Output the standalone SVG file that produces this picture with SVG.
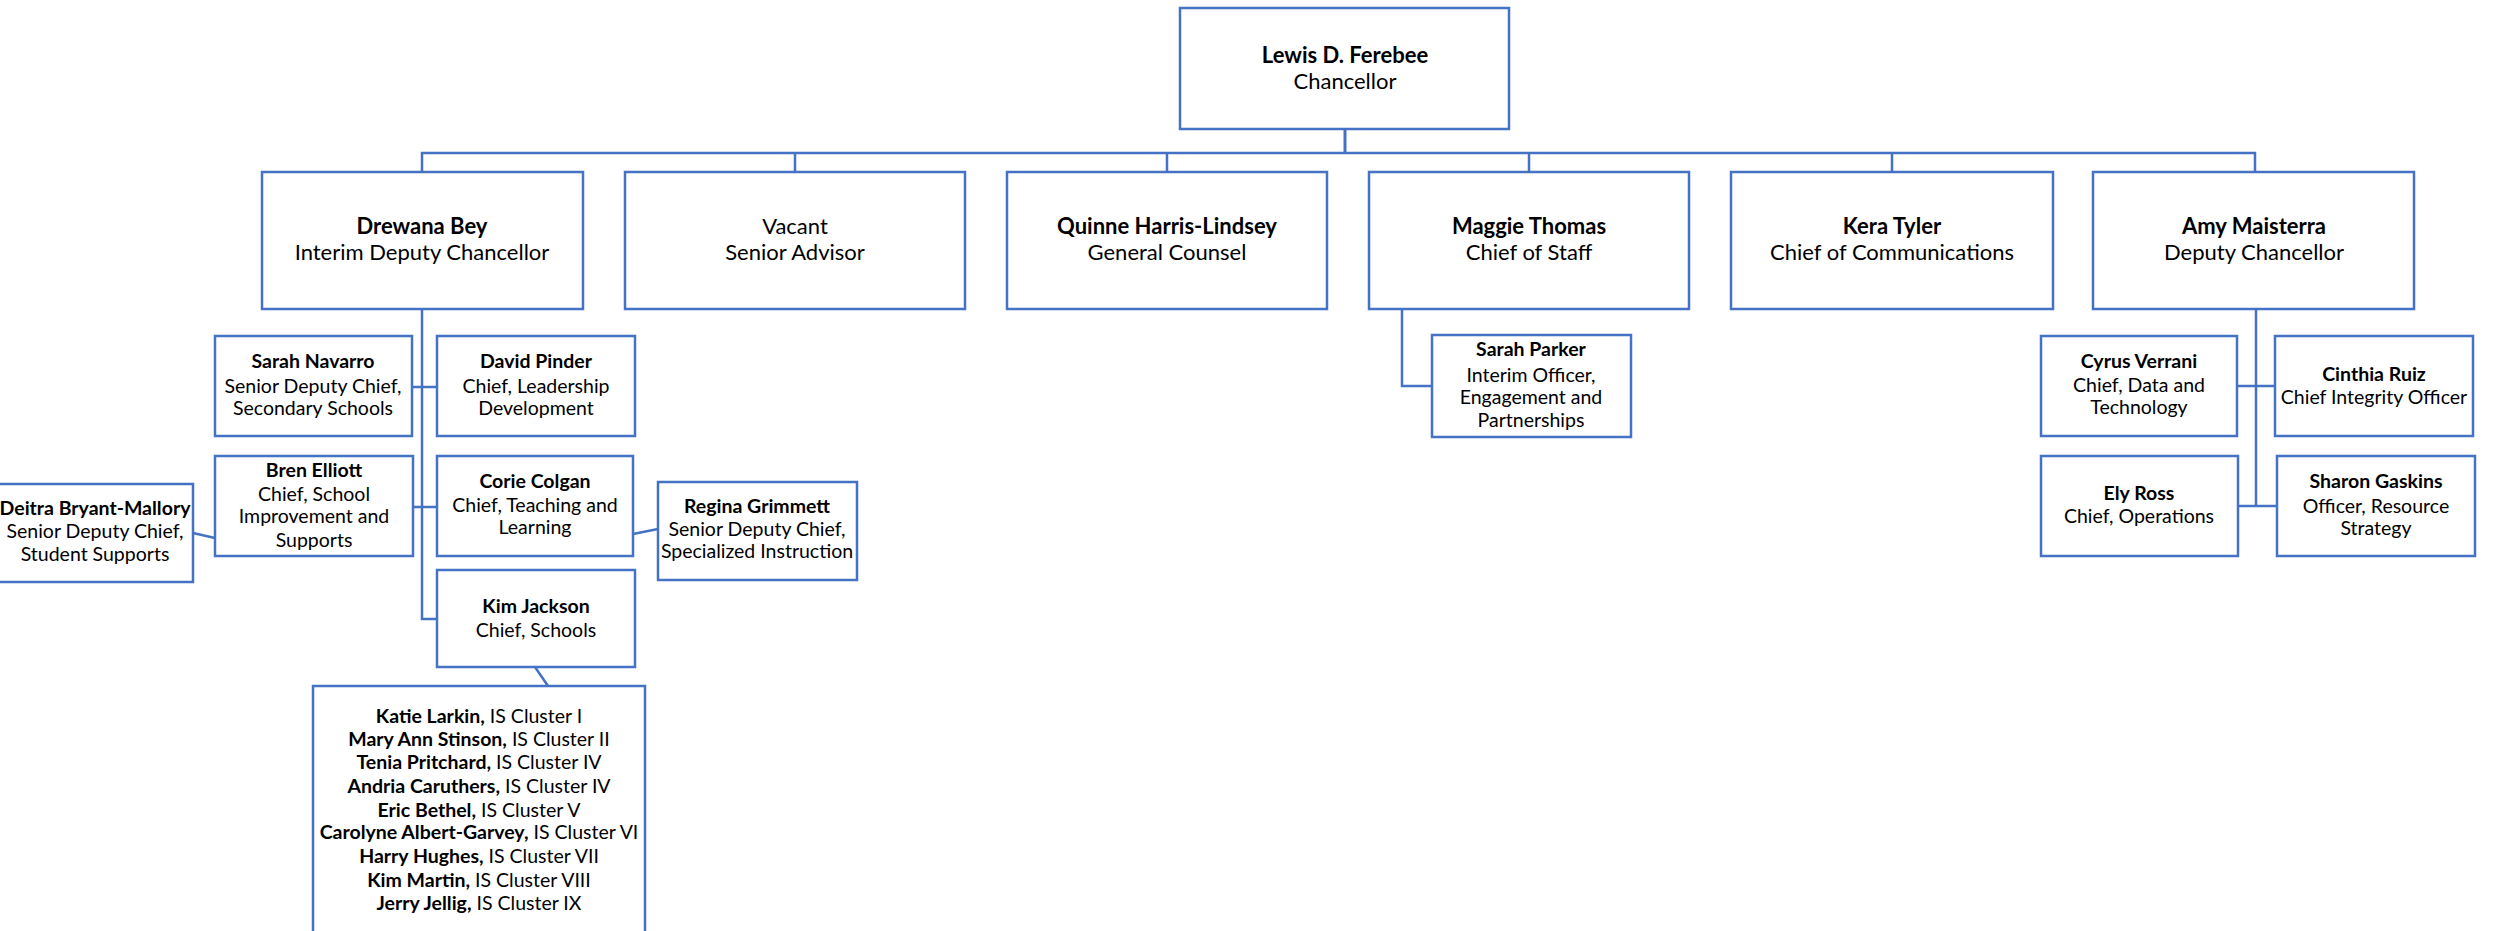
<svg xmlns="http://www.w3.org/2000/svg" width="2501" height="931" viewBox="0 0 2501 931">
<style>
.box{fill:#fff;stroke:#4472C4;stroke-width:2.5}
.conn{fill:none;stroke:#4472C4;stroke-width:2.5}
text{font-family:Lato,"Liberation Sans",sans-serif;fill:#000;text-anchor:middle}
.t1{font-size:22px}
.t2{font-size:19.5px}
.b{font-weight:bold}
</style>
<rect width="2501" height="931" fill="#fff"/>
<g id="connectors">
<path class="conn" d="M1345,129 V153" style="stroke-width:3"/>
<path class="conn" d="M422,172 V153 H2255 V172"/>
<path class="conn" d="M795,153 V172 M1167,153 V172 M1529,153 V172 M1892,153 V172"/>
<path class="conn" d="M422,308 V619 H437"/>
<path class="conn" d="M412,387 H437 M413,507 H437"/>
<path class="conn" d="M193,533 L215,538"/>
<path class="conn" d="M633,534 L658,529"/>
<path class="conn" d="M535,667 L548,686"/>
<path class="conn" d="M1402,308 V386 H1432"/>
<path class="conn" d="M2256,308 V506 M2237,386 H2275 M2238,506 H2277"/>
</g>
<g id="chancellor">
<rect class="box" x="1180" y="8" width="329" height="121"/>
<text class="t1 b" x="1345" y="63">Lewis D. Ferebee</text>
<text class="t1" x="1345" y="89">Chancellor</text>
</g>
<g id="drewana">
<rect class="box" x="262" y="172" width="321" height="137"/>
<text class="t1 b" x="422" y="234">Drewana Bey</text>
<text class="t1" x="422" y="260">Interim Deputy Chancellor</text>
</g>
<g id="vacant">
<rect class="box" x="625" y="172" width="340" height="137"/>
<text class="t1" x="795" y="234">Vacant</text>
<text class="t1" x="795" y="260">Senior Advisor</text>
</g>
<g id="quinne">
<rect class="box" x="1007" y="172" width="320" height="137"/>
<text class="t1 b" x="1167" y="234">Quinne  Harris-Lindsey</text>
<text class="t1" x="1167" y="260">General Counsel</text>
</g>
<g id="maggie">
<rect class="box" x="1369" y="172" width="320" height="137"/>
<text class="t1 b" x="1529" y="234">Maggie Thomas</text>
<text class="t1" x="1529" y="260">Chief of Staff</text>
</g>
<g id="kera">
<rect class="box" x="1731" y="172" width="322" height="137"/>
<text class="t1 b" x="1892" y="234">Kera Tyler</text>
<text class="t1" x="1892" y="260">Chief of Communications</text>
</g>
<g id="amy">
<rect class="box" x="2093" y="172" width="321" height="137"/>
<text class="t1 b" x="2254" y="234">Amy Maisterra</text>
<text class="t1" x="2254" y="260">Deputy Chancellor</text>
</g>
<g id="sarah-navarro">
<rect class="box" x="215" y="336" width="197" height="100"/>
<text class="t2 b" x="313" y="368">Sarah Navarro</text>
<text class="t2" x="313" y="393">Senior Deputy Chief,</text>
<text class="t2" x="313" y="415">Secondary Schools</text>
</g>
<g id="david-pinder">
<rect class="box" x="437" y="336" width="198" height="100"/>
<text class="t2 b" x="536" y="368">David Pinder</text>
<text class="t2" x="536" y="393">Chief, Leadership</text>
<text class="t2" x="536" y="415">Development</text>
</g>
<g id="bren-elliott">
<rect class="box" x="215" y="456" width="198" height="100"/>
<text class="t2 b" x="314" y="477">Bren Elliott</text>
<text class="t2" x="314" y="501">Chief, School</text>
<text class="t2" x="314" y="523">Improvement and</text>
<text class="t2" x="314" y="547">Supports</text>
</g>
<g id="corie-colgan">
<rect class="box" x="437" y="456" width="196" height="100"/>
<text class="t2 b" x="535" y="488">Corie Colgan</text>
<text class="t2" x="535" y="512">Chief, Teaching and</text>
<text class="t2" x="535" y="534">Learning</text>
</g>
<g id="deitra">
<rect class="box" x="-3" y="484" width="196" height="98"/>
<text class="t2 b" x="95" y="515">Deitra Bryant-Mallory</text>
<text class="t2" x="95" y="538">Senior Deputy Chief,</text>
<text class="t2" x="95" y="561">Student Supports</text>
</g>
<g id="regina">
<rect class="box" x="658" y="482" width="199" height="98"/>
<text class="t2 b" x="757" y="513">Regina Grimmett</text>
<text class="t2" x="757" y="536">Senior Deputy Chief,</text>
<text class="t2" x="757" y="558">Specialized Instruction</text>
</g>
<g id="kim-jackson">
<rect class="box" x="437" y="570" width="198" height="97"/>
<text class="t2 b" x="536" y="613">Kim Jackson</text>
<text class="t2" x="536" y="637">Chief, Schools</text>
</g>
<g id="clusters">
<rect class="box" x="313" y="686" width="332" height="260"/>
<text class="t2" x="479" y="723"><tspan class="b">Katie Larkin,</tspan> IS Cluster I</text>
<text class="t2" x="479" y="746"><tspan class="b">Mary Ann Stinson,</tspan> IS Cluster II</text>
<text class="t2" x="479" y="769"><tspan class="b">Tenia Pritchard,</tspan> IS Cluster IV</text>
<text class="t2" x="479" y="793"><tspan class="b">Andria Caruthers,</tspan> IS Cluster IV</text>
<text class="t2" x="479" y="817"><tspan class="b">Eric Bethel,</tspan> IS Cluster V</text>
<text class="t2" x="479" y="839"><tspan class="b">Carolyne Albert-Garvey,</tspan> IS Cluster VI</text>
<text class="t2" x="479" y="863"><tspan class="b">Harry Hughes,</tspan> IS Cluster VII</text>
<text class="t2" x="479" y="887"><tspan class="b">Kim Martin,</tspan> IS Cluster VIII</text>
<text class="t2" x="479" y="910"><tspan class="b">Jerry Jellig,</tspan> IS Cluster IX</text>
</g>
<g id="sarah-parker">
<rect class="box" x="1432" y="335" width="199" height="102"/>
<text class="t2 b" x="1531" y="356">Sarah Parker</text>
<text class="t2" x="1531" y="382">Interim Officer,</text>
<text class="t2" x="1531" y="404">Engagement and</text>
<text class="t2" x="1531" y="427">Partnerships</text>
</g>
<g id="cyrus">
<rect class="box" x="2041" y="336" width="196" height="100"/>
<text class="t2 b" x="2139" y="368">Cyrus Verrani</text>
<text class="t2" x="2139" y="392">Chief, Data and</text>
<text class="t2" x="2139" y="414">Technology</text>
</g>
<g id="cinthia">
<rect class="box" x="2275" y="336" width="198" height="100"/>
<text class="t2 b" x="2374" y="381">Cinthia Ruiz</text>
<text class="t2" x="2374" y="404">Chief Integrity Officer</text>
</g>
<g id="ely">
<rect class="box" x="2041" y="456" width="197" height="100"/>
<text class="t2 b" x="2139" y="500">Ely Ross</text>
<text class="t2" x="2139" y="523">Chief, Operations</text>
</g>
<g id="sharon">
<rect class="box" x="2277" y="456" width="198" height="100"/>
<text class="t2 b" x="2376" y="488">Sharon Gaskins</text>
<text class="t2" x="2376" y="513">Officer, Resource</text>
<text class="t2" x="2376" y="535">Strategy</text>
</g>
</svg>
